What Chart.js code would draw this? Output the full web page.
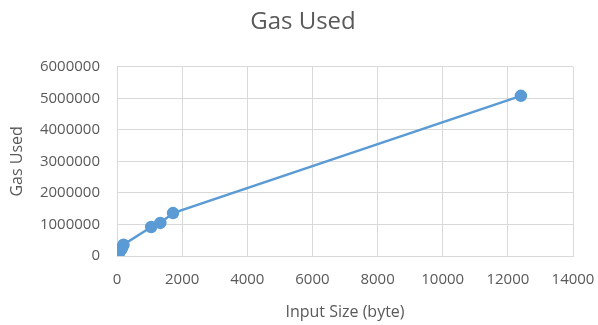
<!DOCTYPE html>
<html lang="en">
<head>
    <meta charset="UTF-8">
    <title>Gas Used</title>
    <style>
        body { margin: 0; background: #ffffff; }
        #wrap { width: 598px; height: 325px; }
    </style>
</head>
<body>
    <div id="wrap"><canvas id="gasChart"></canvas></div>

    <script src="https://cdn.jsdelivr.net/npm/chart.js"></script>
    <script>
        // input size in bytes vs gas used
        const inputSize = [0, 16, 32, 64, 96, 128, 160, 200, 1050, 1330, 1720, 12400];
        const gasUsed = [21000, 40000, 70000, 110000, 160000, 210000, 270000, 360000, 920000, 1050000, 1360000, 5080000];
        const xTicks = [0, 2000, 4000, 6000, 8000, 10000, 12000, 14000];
        const yTicks = [0, 1000000, 2000000, 3000000, 4000000, 5000000, 6000000];

        const points = inputSize.map((x, i) => ({ x: x, y: gasUsed[i] }));
        const grey = '#595959';
        const font = "'Open Sans', 'Liberation Sans', sans-serif";

        const ctx = document.getElementById('gasChart').getContext('2d');
        new Chart(ctx, {
            type: 'scatter',
            data: {
                datasets: [{
                    label: 'Gas Used',
                    data: points,
                    showLine: true,
                    borderColor: '#5B9BD5',
                    backgroundColor: '#5B9BD5',
                    borderWidth: 2.5,
                    pointRadius: 5,
                    pointHoverRadius: 5
                }]
            },
            options: {
                responsive: true,
                maintainAspectRatio: false,
                animation: false,
                layout: { padding: { left: 8, right: 0, top: 0, bottom: 0 } },
                plugins: {
                    legend: { display: false },
                    tooltip: { enabled: false },
                    title: {
                        display: true,
                        text: 'Gas Used',
                        color: grey,
                        font: { family: font, size: 24, weight: 'normal' },
                        padding: { top: 8, bottom: 30 }
                    }
                },
                scales: {
                    x: {
                        type: 'linear',
                        min: 0,
                        max: 14000,
                        afterBuildTicks: (s) => { s.ticks = xTicks.map(v => ({ value: v })); },
                        afterFit: (s) => { s.height = 69; s.paddingRight = 25; },
                        ticks: { color: grey, font: { family: font, size: 15 }, maxRotation: 0, padding: 15, callback: v => String(v) },
                        grid: { color: '#d9d9d9', drawTicks: false },
                        border: { color: '#d9d9d9' },
                        title: { display: true, text: 'Input Size (byte)', color: grey, font: { family: font, size: 16 }, padding: { top: 4, bottom: 3 } }
                    },
                    y: {
                        min: 0,
                        max: 6000000,
                        afterBuildTicks: (s) => { s.ticks = yTicks.map(v => ({ value: v })); },
                        afterFit: (s) => { s.width = 109; },
                        ticks: { color: grey, font: { family: font, size: 15 }, padding: 17, callback: v => String(v) },
                        grid: { color: '#d9d9d9', drawTicks: false },
                        border: { color: '#d9d9d9' },
                        title: { display: true, text: 'Gas Used', color: grey, font: { family: font, size: 16 }, padding: 0 }
                    }
                }
            }
        });
    </script>
</body>
</html>
